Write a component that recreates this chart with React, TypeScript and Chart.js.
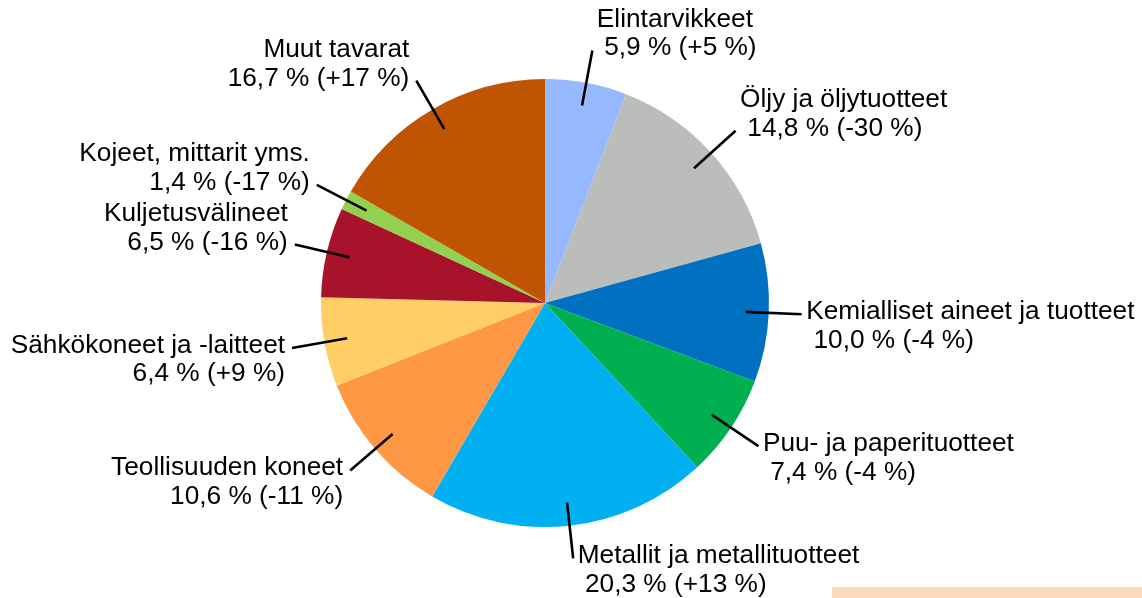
import React, { useEffect, useRef } from "react";
import { Chart, registerables } from "chart.js";

Chart.register(...registerables);

const categories = [
  "Elintarvikkeet",
  "Öljy ja öljytuotteet",
  "Kemialliset aineet ja tuotteet",
  "Puu- ja paperituotteet",
  "Metallit ja metallituotteet",
  "Teollisuuden koneet",
  "Sähkökoneet ja -laitteet",
  "Kuljetusvälineet",
  "Kojeet, mittarit yms.",
  "Muut tavarat",
];
const shares = [5.9, 14.8, 10.0, 7.4, 20.3, 10.6, 6.4, 6.5, 1.4, 16.7];
const changes = ["+5", "-30", "-4", "-4", "+13", "-11", "+9", "-16", "-17", "+17"];
const colors = [
  "#95B8FF",
  "#BBBDBB",
  "#0070C0",
  "#00B050",
  "#00B0F0",
  "#FE9845",
  "#FFCE65",
  "#A6132B",
  "#92D050",
  "#BF5502",
];
// which text line (1 or 2) the leader line points at
const attachLine = [2, 2, 1, 1, 1, 1, 1, 2, 2, 2];

const FONT = '25px "Liberation Sans", Arial, sans-serif';
const STRETCH = 1.05;
const LINE_GAP = 28.5;

const fmtValue = (v: number, c: string) =>
  `${v.toFixed(1).replace(".", ",")} % (${c} %)`;

const labelPlugin = {
  id: "leaderLabels",
  afterDraw(chart: any) {
    const ctx = chart.ctx as CanvasRenderingContext2D;
    const meta = chart.getDatasetMeta(0);
    ctx.save();
    ctx.font = FONT;
    ctx.fillStyle = "#000";
    ctx.strokeStyle = "#000";
    ctx.lineWidth = 2.6;
    ctx.textBaseline = "alphabetic";
    meta.data.forEach((arc: any, i: number) => {
      const p = arc.getProps(["x", "y", "startAngle", "endAngle", "outerRadius"], true);
      const mid = (p.startAngle + p.endAngle) / 2;
      const cos = Math.cos(mid);
      const sin = Math.sin(mid);
      const r1 = p.outerRadius * 0.897;
      const r2 = p.outerRadius * 1.147;
      const x1 = p.x + cos * r1;
      const y1 = p.y + sin * r1;
      const x2 = p.x + cos * r2;
      const y2 = p.y + sin * r2;
      ctx.beginPath();
      ctx.moveTo(x1, y1);
      ctx.lineTo(x2, y2);
      ctx.stroke();

      const right = cos >= 0;
      const line1 = categories[i];
      const line2 = (right ? " " : "") + fmtValue(shares[i], changes[i]);
      const attachBase = y2 + 5;
      const base1 = attachLine[i] === 1 ? attachBase : attachBase - LINE_GAP;
      const base2 = base1 + LINE_GAP;
      const tx = right ? x2 + 4.5 : x2 - 7;
      ctx.textAlign = right ? "left" : "right";
      [
        [line1, base1],
        [line2, base2],
      ].forEach(([t, b]) => {
        ctx.save();
        ctx.translate(tx, b as number);
        ctx.scale(STRETCH, 1);
        ctx.fillText(t as string, 0, 0);
        ctx.restore();
      });
    });
    ctx.restore();
  },
};

export default function App() {
  const ref = useRef<HTMLCanvasElement | null>(null);
  useEffect(() => {
    if (!ref.current) return;
    const chart = new Chart(ref.current, {
      type: "pie",
      data: {
        labels: categories,
        datasets: [
          {
            data: shares,
            backgroundColor: colors,
            borderWidth: 0,
          },
        ],
      },
      options: {
        responsive: false,
        animation: false,
        layout: { padding: { left: 321, right: 373, top: 79, bottom: 71 } },
        plugins: {
          legend: { display: false },
          tooltip: { enabled: false },
          title: { display: false },
        },
      },
      plugins: [labelPlugin],
    });
    return () => chart.destroy();
  }, []);
  return (
    <div style={{ position: "absolute", left: 0, top: 0, width: 1142, height: 598, background: "#fff" }}>
      <canvas ref={ref} width={1142} height={598} style={{ display: "block" }} />
      <div
        style={{
          position: "absolute",
          left: 832,
          top: 587,
          width: 310,
          height: 11,
          background: "#FDD9BB",
        }}
      />
    </div>
  );
}
